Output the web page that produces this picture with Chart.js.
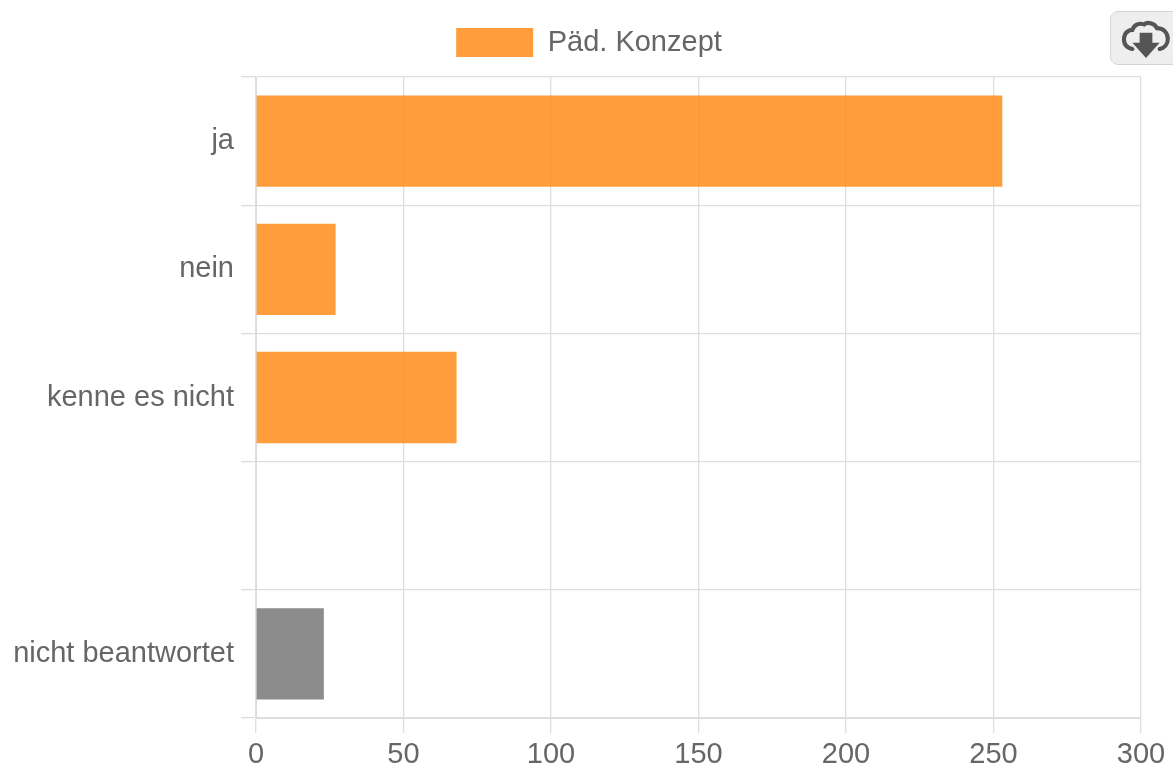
<!DOCTYPE html>
<html><head><meta charset="utf-8">
<script src="https://cdn.jsdelivr.net/npm/chart.js@4"></script>
<style>html,body{margin:0;padding:0;background:#fff;overflow:hidden}
#w{position:absolute;left:0;top:0;width:1173px;height:769px}
#b{position:absolute;left:1110px;top:11px;width:70px;height:54px;box-sizing:border-box;background:#eee;border:1px solid #d4d4d4;border-radius:8px}
#b svg{position:absolute;left:11px;top:7px}</style>
</head><body><div id="w"><canvas id="c" width="1173" height="769"></canvas></div>
<div id="b"><svg width="48" height="40" viewBox="0 0 52 44"><path d="M11 33 C3 31 1 26 2 20 C3 14 8 12 11 12 C13 6 19 4 24 6 C27 3 35 4 38 10 C45 10 50 15 50 22 C50 28 46 32 41 33" fill="none" stroke="#555" stroke-width="4.5" stroke-linecap="round"/><path d="M19 15 H33 V26 H41 L26 43 L11 26 H19 Z" fill="#555"/></svg></div>
<script>
const categories=["ja","nein","kenne es nicht","","nicht beantwortet"];
const values=[253,27,68,null,23];
const barColors=["rgba(255,140,26,0.85)","rgba(255,140,26,0.85)","rgba(255,140,26,0.85)","rgba(255,140,26,0.85)","rgba(120,120,120,0.85)"];
const seriesName="Päd. Konzept";
const xTicks=[0,50,100,150,200,250,300];
const font={family:'"Liberation Sans"',size:29};
const placeLegend={id:'placeLegend',afterLayout(ch){ch.legend.left+=37;ch.legend.top-=10;}};
new Chart(document.getElementById('c'),{type:'bar',plugins:[placeLegend],
data:{labels:categories,datasets:[{label:seriesName,data:values,backgroundColor:barColors,categoryPercentage:0.8,barPercentage:0.89}]},
options:{indexAxis:'y',responsive:false,animation:false,
layout:{padding:{left:0,right:32,top:13,bottom:0}},
plugins:{tooltip:{enabled:false},legend:{position:'top',labels:{boxWidth:77,boxHeight:29,color:'#666',font,padding:25}}},
scales:{x:{min:0,max:300,afterFit(s){s.height=51},afterBuildTicks(s){s.ticks=xTicks.map(v=>({value:v}))},ticks:{color:'#666',padding:5,maxRotation:0,font},grid:{color:'#dedede',lineWidth:1.3,tickLength:15}},
y:{afterFit(s){s.width=256},ticks:{color:'#666',padding:7,font},grid:{color:'#dedede',lineWidth:1.3,tickLength:15}}}}});
</script></body></html>
